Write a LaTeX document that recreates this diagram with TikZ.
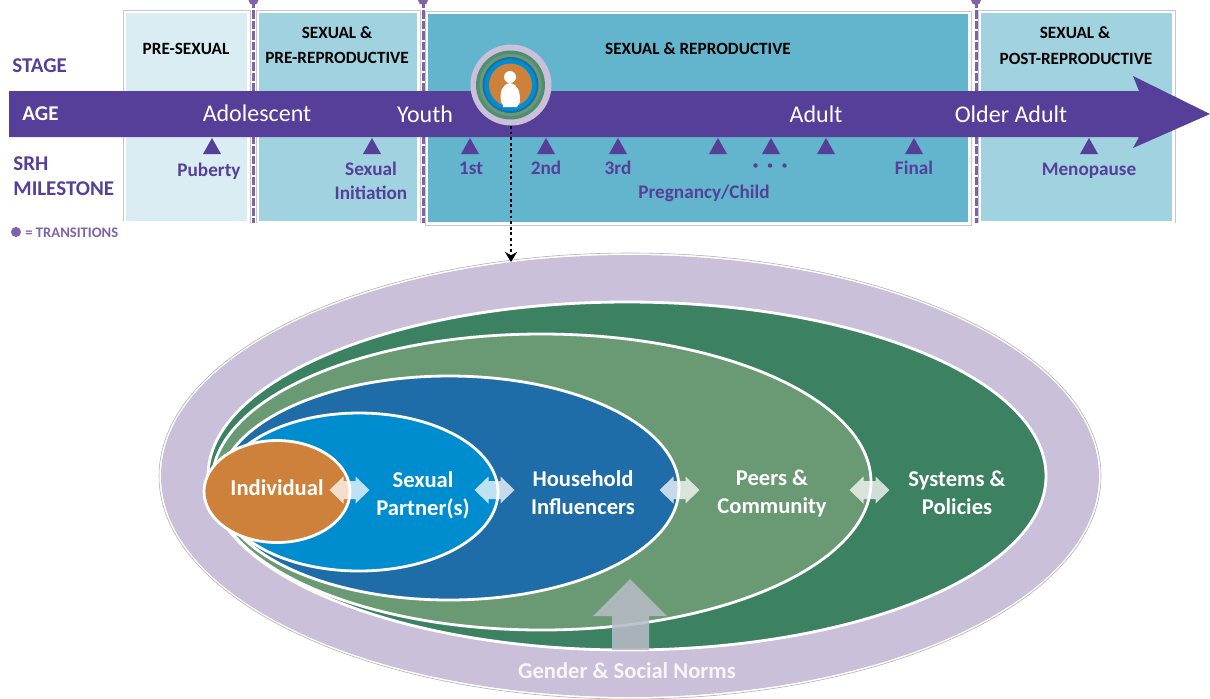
\documentclass[tikz,border=0pt]{standalone}
\usepackage{fontspec}
\setmainfont{Carlito}
\usetikzlibrary{positioning, arrows.meta}

\definecolor{barpurple}{HTML}{553F99}
\definecolor{paleteal}{HTML}{DAEDF3}
\definecolor{midteal}{HTML}{A0D2E0}
\definecolor{deepteal}{HTML}{62B5CD}
\definecolor{normlilac}{HTML}{CAC0DA}
\definecolor{sysgreen}{HTML}{3C8161}
\definecolor{peergreen}{HTML}{6A9A73}
\definecolor{homeblue}{HTML}{1E6CA8}
\definecolor{partnerblue}{HTML}{008DCF}
\definecolor{selforange}{HTML}{CE813B}
\definecolor{dashpurple}{HTML}{7F63A8}
\definecolor{normarrow}{HTML}{B6BAC6}

\tikzset{
	rowlabel/.style={font=\bfseries\fontsize{10.5}{10.5}\selectfont, text=barpurple, anchor=west, inner sep=0},
	stagelabel/.style={font=\bfseries\fontsize{8.6}{8.6}\selectfont, text=black, inner sep=0},
	agelabel/.style={font=\fontsize{12}{12}\selectfont, text=white, inner sep=0},
	milelabel/.style={font=\bfseries\fontsize{9.6}{9.6}\selectfont, text=barpurple, inner sep=0},
	ringlabel/.style={font=\bfseries\fontsize{11.3}{11.3}\selectfont, text=white, inner sep=0},
	panelframe/.style={draw=black!22, line width=0.5pt, fill=white},
	ringline/.style={draw=white, line width=1.4pt},
	linkarrow/.style={fill=white, fill opacity=0.75},
	markerhead/.style={fill=barpurple}
}

\begin{document}
\begin{tikzpicture}[x=0.5pt, y=-0.5pt]
	\clip (0,0) rectangle (1210,698);

	%//stage panels
	\draw [panelframe] (123,221) -- (123,10) -- (250,10) -- (250,223);
	\draw [panelframe] (256,223) -- (256,10) -- (420,10) -- (420,223);
	\draw [panelframe] (425,225) rectangle (971,11);
	\draw [panelframe] (978,223) -- (978,10) -- (1175,10) -- (1175,223);
	\fill [paleteal] (126,13) rectangle (247,221);
	\fill [midteal] (259,13) rectangle (417,221);
	\fill [deepteal] (428,14) rectangle (968,222);
	\fill [midteal] (981,13) rectangle (1172,221);

	%//transitions
	\foreach \x in {253.5, 423, 976}
	{
		\draw [dashpurple, line width=1.5pt, dash pattern=on 4.2pt off 1pt] (\x,0) -- (\x,223);
		\fill [dashpurple] (\x,0) circle (5);
	}

	%//age bar
	\fill [barpurple] (9,91) -- (1139,91) -- (1133,76) -- (1210,114) -- (1133,148) -- (1139,137) -- (9,137) -- cycle;

	%//milestone markers
	\foreach \x in {212, 372, 470, 546, 618, 718, 771, 826, 914, 1089}
		\fill [markerhead] (\x,138) -- ++(9,16) -- ++(-18,0) -- cycle;

	%//row labels
	\node [rowlabel] (stage) at (12,66) {STAGE};
	\node [rowlabel, text=white] (age) at (22,114) {AGE};
	\node [rowlabel] (srh) at (13,164) {SRH};
	\node [rowlabel] (milestone) at (13,189) {MILESTONE};
	\fill [dashpurple] (16,232) circle (5);
	\node [anchor=west, inner sep=0, text=dashpurple, font=\bfseries\fontsize{7.3}{7.3}\selectfont] (transitions) at (25,233) {= TRANSITIONS};

	\node [stagelabel] (presexual) at (186,49) {PRE-SEXUAL};
	\node [stagelabel] (sexualone) at (337,33) {SEXUAL \&};
	\node [stagelabel] (prerepro) at (337,58) {PRE-REPRODUCTIVE};
	\node [stagelabel] (repro) at (698,49) {SEXUAL \& REPRODUCTIVE};
	\node [stagelabel] (sexualtwo) at (1075,33) {SEXUAL \&};
	\node [stagelabel] (postrepro) at (1076,59) {POST-REPRODUCTIVE};

	\node [agelabel] (adolescent) at (257,113) {Adolescent};
	\node [agelabel] (youth) at (425,114) {Youth};
	\node [agelabel] (adult) at (816,114) {Adult};
	\node [agelabel] (older) at (1011,114) {Older Adult};

	\node [milelabel] (puberty) at (209,171) {Puberty};
	\node [milelabel] (sexual) at (371,169) {Sexual};
	\node [milelabel] (initiation) at (371,193) {Initiation};
	\node [milelabel] (first) at (471,168) {1st};
	\node [milelabel] (second) at (546,168) {2nd};
	\node [milelabel] (third) at (618,168) {3rd};
	\node [milelabel] (final) at (914,168) {Final};
	\node [milelabel] (pregnancy) at (704,193) {Pregnancy/Child};
	\node [milelabel] (menopause) at (1089,171) {Menopause};
	\foreach \x in {755.5, 770, 784.5}
		\fill [barpurple] (\x,165.5) circle (2.2);

	%//small icon on the bar
	\node [circle, fill=normlilac, minimum size=40.5pt, inner sep=0] (icon) at (511,85) {};
	\fill [sysgreen!90!white] (510.5,85) circle (34.5);
	\fill [peergreen] (510.5,85) circle (31);
	\fill [homeblue] (510.5,85) circle (28);
	\fill [partnerblue] (510.5,85) circle (26);
	\fill [selforange] (510.5,85) circle (21.5);
	\fill [white] (510,77) circle (6);
	\fill [white] (501,102) .. controls (500,92) and (501,85) .. (510,83) .. controls (519,85) and (520,92) .. (520,102) .. controls (518,104) .. (517,107) -- (503,107) .. controls (503,104) .. (501,102) -- cycle;

	%//nested rings
	\draw [black!30, line width=0.3pt, fill=white] (630,476) ellipse (471 and 223);
	\fill [normlilac] (630,476) ellipse (469 and 221);
	\draw [ringline, fill=sysgreen] (627,476) ellipse (419 and 174);
	\draw [ringline, fill=peergreen] (541.5,482) ellipse (329.5 and 148);
	\draw [ringline, fill=homeblue] (449,488) ellipse (230 and 112);
	\draw [ringline, fill=partnerblue] (359,492) ellipse (139 and 79);
	\draw [ringline, fill=selforange] (277,491.5) ellipse (73 and 51);

	\coordinate (dotend) at (511,262);
	\draw [black, line width=1.2pt, dash pattern=on 1.4pt off 1.4pt, -{Stealth[length=5pt, width=6pt]}] (icon.south) -- (dotend);

	\foreach \x in {349.5, 494.5, 679.5, 869.5}
		\fill [linkarrow] (\x,490) ++(-20,0) -- ++(14,-13.5) -- ++(0,4.5) -- ++(12,0) -- ++(0,-4.5) -- ++(14,13.5) -- ++(-14,13.5) -- ++(0,-4.5) -- ++(-12,0) -- ++(0,4.5) -- cycle;

	\fill [normarrow, fill opacity=0.88] (630,579) -- (667,616) -- (649,616) -- (649,650) -- (612,650) -- (612,616) -- (593,616) -- cycle;

	\node [ringlabel] (individual) at (277,488) {Individual};
	\node [ringlabel, align=center] (partner) at (423,495) {Sexual\\[2.7pt]Partner(s)};
	\node [ringlabel, align=center] (household) at (583,493) {Household\\[2.7pt]Influencers};
	\node [ringlabel, align=center] (peers) at (772,493) {Peers \&\\[2.7pt]Community};
	\node [ringlabel, align=center] (systems) at (957,493) {Systems \&\\[2.7pt]Policies};
	\node [ringlabel, text=white!85!normlilac] (norms) at (627,671) {Gender \& Social Norms};
\end{tikzpicture}
\end{document}
